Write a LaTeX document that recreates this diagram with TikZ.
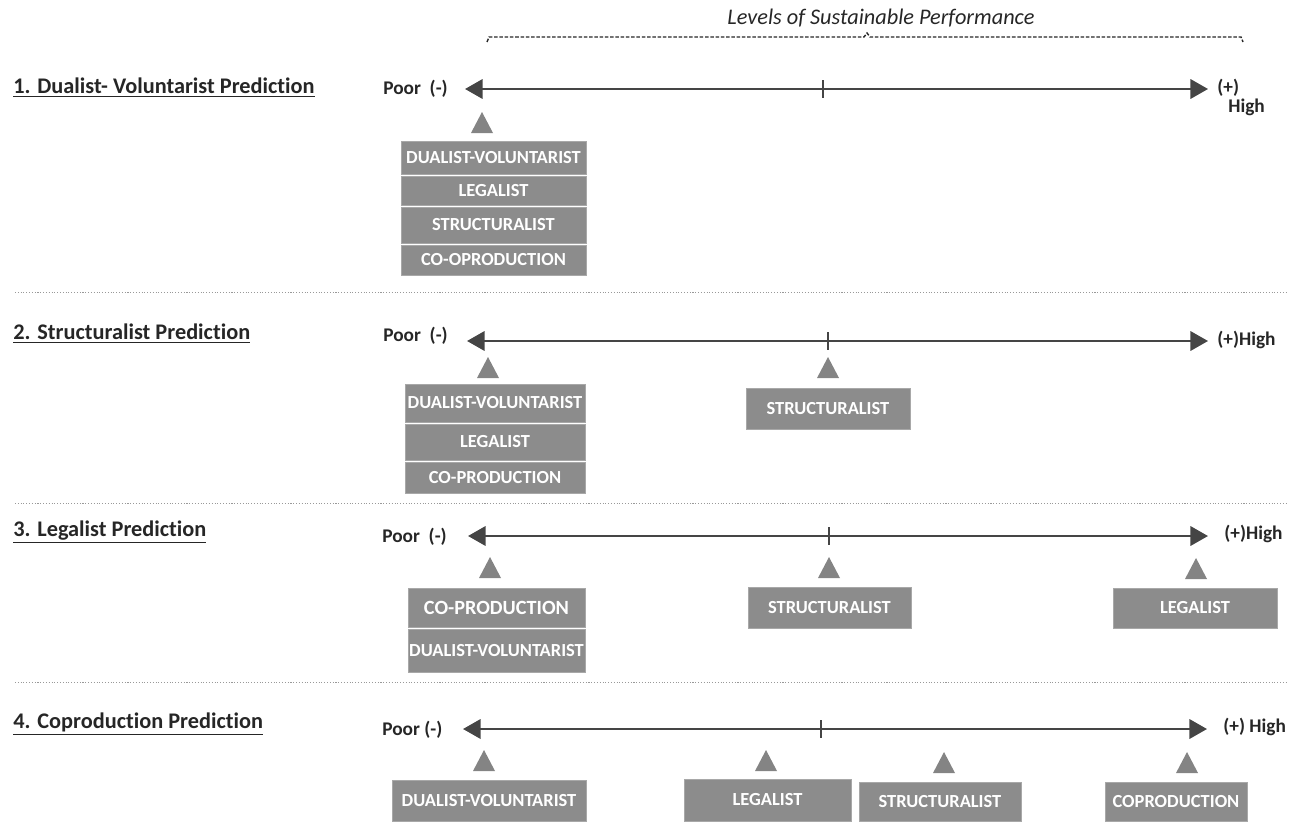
\documentclass[tikz,border=0pt]{standalone}
\usepackage{fontspec}
\setmainfont{Carlito}[Ligatures=CommonOff]
\usetikzlibrary{arrows.meta}
\definecolor{boxgray}{HTML}{8C8C8C}
\definecolor{boxedge}{HTML}{A8A8A8}
\definecolor{trigray}{HTML}{848484}
\definecolor{axisgray}{HTML}{454545}
\definecolor{inkgray}{HTML}{262626}
\def\pointer(#1,#2){\fill[tri] (#1-11,#2+21) -- (#1,#2) -- (#1+11,#2+21) -- cycle;}
\tikzset{
  box/.style={rectangle, fill=boxgray, draw=boxedge, line width=0.5pt, inner sep=0pt,
    text=white, font=\bfseries\fontsize{10.5}{12}\selectfont},
  tri/.style={fill=trigray},
  axis/.style={draw=axisgray, line width=1.4pt,
    {Triangle[length=10pt,width=11pt]}-{Triangle[length=10pt,width=11pt]}},
  tick/.style={draw=axisgray, line width=1.1pt},
  heading/.style={anchor=west, inner sep=0pt, text=inkgray, font=\bfseries\fontsize{12.7}{14}\selectfont},
  end/.style={inner sep=0pt, text=inkgray, font=\bfseries\fontsize{11}{13}\selectfont},
  sep/.style={draw=gray!80, line width=0.5pt, dash pattern=on 0.6pt off 1pt}
}
\begin{document}
\begin{tikzpicture}[x=0.02cm, y=-0.02cm]
  \useasboundingbox (0,0) rectangle (1300,821);
  %%%%% HEADER %%%%%
  \node[text=inkgray, font=\itshape\fontsize{12.7}{14}\selectfont] (levels) at (881,18) {Levels of Sustainable Performance};
  \draw[draw=inkgray, line width=0.8pt, dash pattern=on 2pt off 1pt] (487,42) -- (489,37) -- (864,37) -- (867,33)
    -- (870,37) -- (1241,37) -- (1243,42);

  %%%%% 1. DUALIST-VOLUNTARIST %%%%%
  \node[heading] (h1) at (13,88) {\underline{1. Dualist- Voluntarist Prediction}};
  \node[end, anchor=west] (poor1) at (383,89) {Poor~~(-)};
  \node[end, anchor=west] (plus1) at (1217,88) {(+)};
  \node[end, anchor=west] (high1) at (1228,107) {High};
  \coordinate (l1) at (465,89);
  \coordinate (r1) at (1208,89);
  \coordinate (m1) at (823,89);
  \draw[axis] (l1) -- (r1);
  \draw[tick] ([yshift=0.18cm]m1) -- ([yshift=-0.18cm]m1);
  \pointer(482,112)
  \node[box, minimum width=3.7cm, minimum height=0.66cm] (dv1) at (493.5,157.5) {DUALIST-VOLUNTARIST};
  \node[box, minimum width=3.7cm, minimum height=0.58cm] (le1) at (493.5,190.5) {LEGALIST};
  \node[box, minimum width=3.7cm, minimum height=0.72cm] (st1) at (493.5,225) {STRUCTURALIST};
  \node[box, minimum width=3.7cm, minimum height=0.6cm] (co1) at (493.5,260) {CO-OPRODUCTION};

  \draw[sep] (15,292) -- (1287,292);

  %%%%% 2. STRUCTURALIST %%%%%
  \node[heading] (h2) at (13,334) {\underline{2. Structuralist Prediction}};
  \node[end, anchor=west] (poor2) at (383,336) {Poor~~(-)};
  \node[end, anchor=west] (high2) at (1217,340) {(+)High};
  \coordinate (l2) at (467,341);
  \coordinate (r2) at (1208,341);
  \coordinate (m2) at (828,341);
  \draw[axis] (l2) -- (r2);
  \draw[tick] ([yshift=0.18cm]m2) -- ([yshift=-0.18cm]m2);
  \pointer(488,357)
  \pointer(828,357)
  \node[box, minimum width=3.6cm, minimum height=0.76cm] (dv2) at (495,403) {DUALIST-VOLUNTARIST};
  \node[box, minimum width=3.6cm, minimum height=0.72cm] (le2) at (495,442) {LEGALIST};
  \node[box, minimum width=3.6cm, minimum height=0.62cm] (co2) at (495,477.5) {CO-PRODUCTION};
  \node[box, minimum width=3.28cm, minimum height=0.82cm] (st2) at (828,408.5) {STRUCTURALIST};

  \draw[sep] (15,503) -- (1287,503);

  %%%%% 3. LEGALIST %%%%%
  \node[heading] (h3) at (13,532) {\underline{3. Legalist Prediction}};
  \node[end, anchor=west] (poor3) at (382,537) {Poor~~(-)};
  \node[end, anchor=west] (high3) at (1224,534) {(+)High};
  \coordinate (l3) at (468,536);
  \coordinate (r3) at (1208,536);
  \coordinate (m3) at (829,536);
  \draw[axis] (l3) -- (r3);
  \draw[tick] ([yshift=0.18cm]m3) -- ([yshift=-0.18cm]m3);
  \pointer(490,557)
  \pointer(829,557)
  \pointer(1196,558)
  \node[box, minimum width=3.54cm, minimum height=0.78cm, font=\bfseries\fontsize{11.5}{13}\selectfont] (co3) at (496.5,607.5) {CO-PRODUCTION};
  \node[box, minimum width=3.54cm, minimum height=0.86cm] (dv3) at (496.5,650.5) {DUALIST-VOLUNTARIST};
  \node[box, minimum width=3.26cm, minimum height=0.82cm] (st3) at (829.5,607.5) {STRUCTURALIST};
  \node[box, minimum width=3.28cm, minimum height=0.8cm] (le3) at (1195,608) {LEGALIST};

  \draw[sep] (15,682) -- (1287,682);

  %%%%% 4. COPRODUCTION %%%%%
  \node[heading] (h4) at (13,724) {\underline{4. Coproduction Prediction}};
  \node[end, anchor=west] (poor4) at (382,730) {Poor (-)};
  \node[end, anchor=west] (high4) at (1223,727) {(+) High};
  \coordinate (l4) at (463,729);
  \coordinate (r4) at (1207,729);
  \coordinate (m4) at (821,729);
  \draw[axis] (l4) -- (r4);
  \draw[tick] ([yshift=0.18cm]m4) -- ([yshift=-0.18cm]m4);
  \pointer(484,750)
  \pointer(766,750)
  \pointer(944,752)
  \pointer(1187,752)
  \node[box, minimum width=3.88cm, minimum height=0.82cm] (dv4) at (489,801) {DUALIST-VOLUNTARIST};
  \node[box, minimum width=3.34cm, minimum height=0.84cm] (le4) at (767.5,800) {LEGALIST};
  \node[box, minimum width=3.24cm, minimum height=0.78cm] (st4) at (940,802) {STRUCTURALIST};
  \node[box, minimum width=2.84cm, minimum height=0.78cm] (cp4) at (1176,802) {COPRODUCTION};
\end{tikzpicture}
\end{document}
